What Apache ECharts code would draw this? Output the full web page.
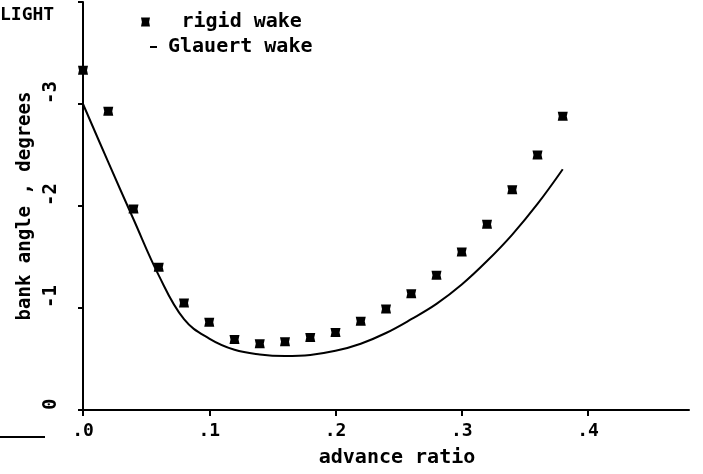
<!DOCTYPE html>
<html>
<head>
<meta charset="utf-8">
<script src="https://cdn.jsdelivr.net/npm/echarts@6/dist/echarts.min.js"></script>
<style>
  html, body { margin: 0; padding: 0; background: #fff; }
  #chart { width: 703px; height: 474px; }
</style>
</head>
<body>
<div id="chart"></div>
<script>
// advance ratio (mu) at which the bank angle was evaluated
const advanceRatio = [0.00, 0.02, 0.04, 0.06, 0.08, 0.10, 0.12, 0.14, 0.16, 0.18,
                      0.20, 0.22, 0.24, 0.26, 0.28, 0.30, 0.32, 0.34, 0.36, 0.38];
// bank angle in degrees, rigid wake model
const rigidWake = [-3.33, -2.93, -1.97, -1.40, -1.05, -0.86, -0.69, -0.65, -0.67, -0.71,
                   -0.76, -0.87, -0.99, -1.14, -1.32, -1.55, -1.82, -2.16, -2.50, -2.88];
// bank angle in degrees, Glauert wake model
const glauertWake = [-3.00, -2.43, -1.87, -1.32, -0.89, -0.70, -0.59, -0.545, -0.53, -0.54,
                     -0.58, -0.65, -0.755, -0.89, -1.04, -1.23, -1.46, -1.72, -2.02, -2.36];
const xTicks = [0, 0.1, 0.2, 0.3, 0.4];
const yTicks = [0, -1, -2, -3, -4];
const yTickLabels = [0, -1, -2, -3];

const MONO = '"DejaVu Sans Mono", monospace';
const markPath = 'path://M0,0 L10,0 L9,5 L10,10 L0,10 L1,5 Z';

const chart = echarts.init(document.getElementById('chart'), null, { renderer: 'canvas' });

chart.setOption({
  animation: false,
  backgroundColor: '#fff',
  grid: { left: 83, right: 14, top: 2, bottom: 64, containLabel: false },
  xAxis: {
    type: 'value',
    min: 0,
    max: 0.48,
    name: 'advance ratio',
    nameLocation: 'middle',
    nameGap: 38,
    nameTextStyle: { fontFamily: MONO, fontSize: 20, fontWeight: 'bold', color: '#000', padding: [0, 0, 0, 22] },
    axisLine: { show: true, onZero: false, lineStyle: { color: '#000', width: 2 } },
    axisTick: { show: true, customValues: xTicks, length: 6, lineStyle: { color: '#000', width: 2 } },
    axisLabel: {
      customValues: xTicks,
      margin: 12,
      fontFamily: MONO,
      fontSize: 18,
      fontWeight: 'bold',
      color: '#000',
      formatter: v => '.' + Math.round(v * 10)
    },
    splitLine: { show: false }
  },
  yAxis: {
    type: 'value',
    min: -4,
    max: 0,
    inverse: true,
    name: 'bank angle , degrees',
    nameLocation: 'middle',
    nameGap: 36,
    nameRotate: 90,
    nameTextStyle: { fontFamily: MONO, fontSize: 19, fontWeight: 'bold', color: '#000' },
    axisLine: { show: true, onZero: false, lineStyle: { color: '#000', width: 2 } },
    axisTick: { show: true, customValues: yTicks, length: 5, lineStyle: { color: '#000', width: 2 } },
    axisLabel: {
      customValues: yTickLabels,
      rotate: 90,
      align: 'left',
      verticalAlign: 'bottom',
      margin: 22,
      fontFamily: MONO,
      fontSize: 19,
      fontWeight: 'bold',
      color: '#000'
    },
    splitLine: { show: false }
  },
  legend: [
    {
      data: [{ name: 'rigid wake', icon: markPath }],
      left: 141, top: 12, padding: 0,
      itemWidth: 10, itemHeight: 9,
      itemStyle: { color: '#000', opacity: 1 },
      textStyle: { fontFamily: MONO, fontSize: 20, fontWeight: 'bold', color: '#000', lineHeight: 20, padding: [0, 0, 0, 26] }
    },
    {
      data: [{ name: 'Glauert wake', icon: 'rect' }],
      left: 150, top: 37, padding: 0,
      itemWidth: 7, itemHeight: 2,
      textStyle: { fontFamily: MONO, fontSize: 20, fontWeight: 'bold', color: '#000', lineHeight: 20, padding: [0, 0, 0, 6] }
    }
  ],
  graphic: [
    {
      type: 'text', left: 0, top: 6,
      style: { text: 'LIGHT', font: 'bold 18px ' + MONO, fill: '#000' }
    },
    {
      type: 'line',
      shape: { x1: 0, y1: 437, x2: 45, y2: 437 },
      style: { stroke: '#000', lineWidth: 2 }
    }
  ],
  series: [
    {
      name: 'rigid wake',
      type: 'scatter',
      symbol: markPath,
      symbolSize: [10, 9],
      itemStyle: { color: '#000', opacity: 1 },
      data: advanceRatio.map((x, i) => [x, rigidWake[i]]),
      z: 3
    },
    {
      name: 'Glauert wake',
      type: 'line',
      smooth: 0.4,
      showSymbol: false,
      symbol: 'none',
      lineStyle: { color: '#000', width: 2 },
      itemStyle: { color: '#000' },
      data: advanceRatio.map((x, i) => [x, glauertWake[i]]),
      z: 2
    }
  ]
});
</script>
</body>
</html>
